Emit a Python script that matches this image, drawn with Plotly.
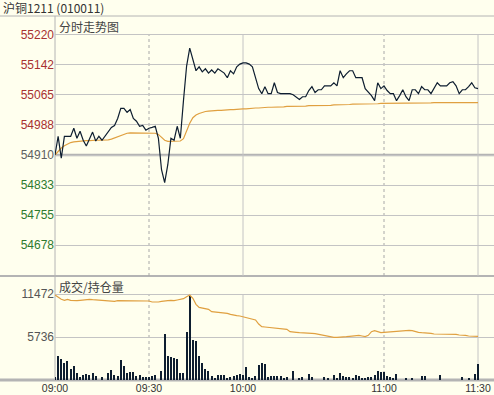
import plotly.graph_objects as go

# ---------------- data ----------------
minutes = list(range(136))  # trading minute index: 09:00 -> 11:30 (10:15-10:30 break removed)

price = [54910, 54958, 54902, 54958, 54958, 54958, 54979, 54953, 54971, 54948,
         54933, 54953, 54969, 54946, 54958, 54948, 54958, 54971, 54981, 54986,
         55004, 55030, 55030, 55020, 55027, 55004, 54997, 54984, 54986, 54974,
         54979, 54981, 54984, 54953, 54872, 54839, 54885, 54953, 54948, 54984,
         54953, 55050, 55139, 55185, 55152, 55127, 55137, 55124, 55132, 55121,
         55129, 55121, 55132, 55127, 55121, 55109, 55127, 55119, 55137, 55144,
         55147, 55147, 55144, 55137, 55111, 55081, 55068, 55086, 55068, 55068,
         55096, 55071, 55068, 55068, 55068, 55068, 55065, 55058, 55053, 55060,
         55060, 55076, 55086, 55071, 55078, 55078, 55088, 55088, 55088, 55096,
         55088, 55127, 55109, 55119, 55127, 55127, 55109, 55109, 55109, 55081,
         55073, 55063, 55050, 55096, 55081, 55088, 55076, 55068, 55068, 55050,
         55063, 55078, 55060, 55050, 55078, 55078, 55068, 55086, 55078, 55078,
         55068, 55083, 55096, 55088, 55088, 55088, 55096, 55099, 55088, 55068,
         55078, 55078, 55086, 55096, 55083, 55081]

avg_price = [54910, 54920, 54928, 54934, 54939, 54942, 54944, 54945, 54946, 54947,
             54947, 54947, 54948, 54948, 54948, 54948, 54948, 54949, 54951, 54954,
             54958, 54961, 54964, 54966, 54967, 54967, 54967, 54967, 54967, 54967,
             54967, 54967, 54966, 54963, 54956, 54948, 54945, 54945, 54945, 54945,
             54946, 54952, 54972, 54992, 55006, 55013, 55017, 55020, 55022, 55023,
             55024, 55024, 55025, 55025, 55026, 55026, 55027, 55027, 55028, 55028,
             55029, 55029, 55030, 55030, 55031, 55031, 55032, 55032, 55033, 55033,
             55033, 55034, 55034, 55034, 55035, 55035, 55035, 55036, 55036, 55036,
             55036, 55037, 55037, 55037, 55037, 55038, 55038, 55038, 55038, 55039,
             55039, 55039, 55040, 55040, 55040, 55041, 55041, 55041, 55041, 55042,
             55042, 55042, 55042, 55042, 55043, 55043, 55043, 55043, 55043, 55043,
             55043, 55043, 55043, 55044, 55044, 55044, 55044, 55044, 55044, 55044,
             55044, 55045, 55045, 55045, 55045, 55045, 55045, 55045, 55045, 55045,
             55045, 55045, 55045, 55045, 55045, 55045]

volume = [350, 3200, 2850, 2310, 2540, 1510, 1870, 980, 445, 620,
          800, 620, 890, 530, 0, 450, 0, 890, 1335, 620,
          530, 2670, 1870, 980, 1070, 1070, 530, 710, 356, 445,
          356, 530, 710, 0, 1250, 6140, 3200, 3115, 2940, 2850,
          890, 890, 6400, 11200, 5340, 5160, 3200, 2225, 1510, 1160,
          530, 270, 620, 620, 620, 270, 450, 580, 710, 840,
          710, 1780, 356, 310, 530, 2000, 2220, 2130, 356, 530,
          530, 530, 530, 220, 445, 0, 1200, 0, 220, 350,
          0, 760, 445, 0, 0, 0, 445, 220, 0, 620,
          300, 980, 480, 350, 445, 300, 620, 530, 270, 270,
          356, 445, 710, 1160, 1070, 1070, 530, 356, 180, 800,
          0, 0, 270, 0, 270, 0, 0, 530, 530, 0,
          0, 0, 0, 710, 0, 0, 0, 0, 0, 0,
          445, 0, 270, 0, 800, 2140]

open_interest = [197900, 197760, 197640, 197580, 197640, 197580, 197560, 197560, 197580, 197600,
                 197640, 197640, 197620, 197600, 197600, 197580, 197560, 197540, 197520, 197520,
                 197560, 197560, 197560, 197560, 197560, 197560, 197560, 197560, 197560, 197560,
                 197540, 197480, 197460, 197480, 197520, 197560, 197560, 197580, 197560, 197600,
                 197640, 197680, 197800, 197900, 197700, 197340, 197160, 197120, 197100, 197040,
                 196900, 196880, 196860, 196840, 196840, 196800, 196740, 196680, 196660, 196640,
                 196600, 196540, 196480, 196440, 196400, 196160, 196000, 195980, 195960, 195940,
                 195920, 195880, 195860, 195840, 195840, 195700, 195660, 195660, 195640, 195640,
                 195640, 195620, 195600, 195580, 195540, 195500, 195440, 195400, 195380, 195360,
                 195360, 195360, 195380, 195400, 195420, 195440, 195460, 195480, 195440, 195400,
                 195480, 195700, 195760, 195700, 195640, 195660, 195680, 195700, 195720, 195740,
                 195760, 195780, 195780, 195780, 195760, 195700, 195660, 195640, 195640, 195620,
                 195600, 195560, 195560, 195560, 195560, 195560, 195560, 195560, 195540, 195500,
                 195500, 195480, 195440, 195420, 195420, 195420]

price_ticks = [54677.5, 54755, 54832.5, 54910, 54987.5, 55065, 55142.5, 55220]
price_labels = ["54678", "54755", "54833", "54910", "54988", "55065", "55142", "55220"]
prev_settle = 54910
vol_ticks = [5736, 11472]
vol_labels = ["5736", "11472"]
time_ticks = [0, 30, 60, 105, 135]
time_labels = ["09:00", "09:30", "10:00", "11:00", "11:30"]
solid_times = [60, 135]
dotted_times = [30, 105]

title_text = "沪铜1211 (010011)"
panel1_title = "分时走势图"
panel2_title = "成交/持仓量"

# ---------------- styling ----------------
W, H = 494, 395
BG = "#FFFFEE"
GRID = "#C4C4C4"
SEP = "#B4B4B4"
LINE = "#0E1E30"
AVG = "#E0A040"
RED = "#A83030"
GREEN = "#2E7A2E"
GREYTXT = "#606060"
NUMFONT = "Liberation Sans"
CJK = "Noto Sans CJK SC"


def py(pix):
    return 1 - pix / H


x_left = 55 / W
x_max = 135 * (W - 55) / (478 - 55)

price_lo = 54910 - 121 * 2.575
price_hi = 54910 + 139 * 2.575
vol_hi = 11472 * (380 - 276) / (380 - 294)
oi_lo, oi_hi = 192800, 199040


def colored(lbl, val):
    if val > prev_settle + 1:
        c = RED
    elif val < prev_settle - 1:
        c = GREEN
    else:
        c = GREYTXT
    return f'<span style="color:{c}">{lbl}</span>'


fig = go.Figure()

fig.add_trace(go.Scatter(x=minutes, y=avg_price, mode="lines",
                         line=dict(color=AVG, width=1.2), xaxis="x", yaxis="y",
                         hoverinfo="skip"))
fig.add_trace(go.Scatter(x=minutes, y=price, mode="lines",
                         line=dict(color=LINE, width=1.2), xaxis="x", yaxis="y"))
fig.add_trace(go.Bar(x=minutes, y=volume, width=0.38,
                     marker=dict(color=LINE, line=dict(width=0)),
                     xaxis="x2", yaxis="y2"))
fig.add_trace(go.Scatter(x=minutes, y=open_interest, mode="lines",
                         line=dict(color=AVG, width=1.2), xaxis="x2", yaxis="y3",
                         hoverinfo="skip"))

shapes = []
# full-width separators
for pix, w in [(16, 1), (276, 2), (380, 3)]:
    shapes.append(dict(type="line", xref="paper", yref="paper", x0=0, x1=1,
                       y0=py(pix), y1=py(pix), line=dict(color=SEP, width=w), layer="below"))
# left axis line through both panels
shapes.append(dict(type="line", xref="paper", yref="paper", x0=x_left, x1=x_left,
                   y0=py(380), y1=py(16), line=dict(color=SEP, width=1), layer="below"))
# thicker previous-settlement line
shapes.append(dict(type="line", xref="paper", yref="y", x0=x_left, x1=1,
                   y0=prev_settle, y1=prev_settle, line=dict(color=SEP, width=2.5), layer="below"))
# vertical time lines
for t in solid_times + dotted_times:
    dash = "solid" if t in solid_times else "dot"
    shapes.append(dict(type="line", xref="x", yref="y", x0=t, x1=t,
                       y0=price_lo, y1=price_ticks[-1],
                       line=dict(color=GRID if dash == "solid" else "#A8A8A8", width=1, dash=dash),
                       layer="below"))
    shapes.append(dict(type="line", xref="x2", yref="y2", x0=t, x1=t,
                       y0=0, y1=vol_ticks[-1],
                       line=dict(color=GRID if dash == "solid" else "#A8A8A8", width=1, dash=dash),
                       layer="below"))

annotations = [
    dict(text=title_text, xref="paper", yref="paper", x=1 / W, y=py(8), xanchor="left",
         yanchor="middle", showarrow=False, font=dict(family=CJK, size=12, color="#333333")),
    dict(text=panel1_title, xref="paper", yref="paper", x=57 / W, y=py(26), xanchor="left",
         yanchor="middle", showarrow=False, font=dict(family=CJK, size=12, color="#444444")),
    dict(text=panel2_title, xref="paper", yref="paper", x=57 / W, y=py(286), xanchor="left",
         yanchor="middle", showarrow=False, font=dict(family=CJK, size=12, color="#444444")),
]

fig.update_layout(
    width=W, height=H,
    margin=dict(l=0, r=0, t=0, b=0),
    paper_bgcolor=BG, plot_bgcolor=BG,
    showlegend=False,
    bargap=0,
    shapes=shapes,
    annotations=annotations,
    xaxis=dict(domain=[x_left, 1], range=[0, x_max], showgrid=False, zeroline=False,
               showticklabels=False, ticks="", showline=False, anchor="y", fixedrange=True),
    yaxis=dict(domain=[py(276), py(16)], range=[price_lo, price_hi],
               tickvals=price_ticks,
               ticktext=[colored(l, v) for l, v in zip(price_labels, price_ticks)],
               showgrid=True, gridcolor=GRID, gridwidth=1, zeroline=False, ticks="",
               showline=False, tickfont=dict(family=NUMFONT, size=12), automargin=False,
               anchor="x"),
    xaxis2=dict(domain=[x_left, 1], range=[0, x_max], showgrid=False, zeroline=False,
                tickvals=time_ticks, ticktext=time_labels, ticks="", showline=False,
                tickfont=dict(family=NUMFONT, size=10.5, color="#333333"), automargin=False,
                anchor="y2"),
    yaxis2=dict(domain=[py(380), py(276)], range=[0, vol_hi], tickvals=vol_ticks,
                ticktext=vol_labels, showgrid=True, gridcolor=GRID, gridwidth=1,
                zeroline=False, ticks="", showline=False,
                tickfont=dict(family=NUMFONT, size=12, color="#555555"), automargin=False,
                anchor="x2"),
    yaxis3=dict(domain=[py(380), py(276)], range=[oi_lo, oi_hi], overlaying="y2",
                showgrid=False, showticklabels=False, zeroline=False, ticks="",
                anchor="x2", side="right"),
)

fig.write_html("out.html", config={"displayModeBar": False},
               post_script="document.body.style.margin='0';document.body.style.background='#FFFFEE';")
